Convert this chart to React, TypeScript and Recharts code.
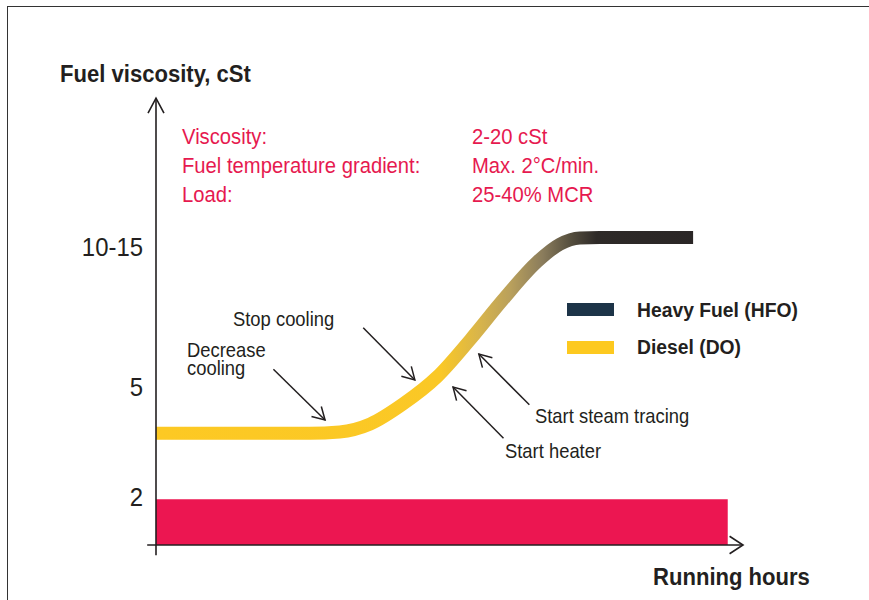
import React from 'react';
import {
  ComposedChart,
  Line,
  XAxis,
  YAxis,
  ReferenceArea,
  ReferenceLine,
  Legend,
} from 'recharts';

const FONT = '"Liberation Sans", Arial, sans-serif';
const INK = '#231F20';
const RED = '#E6194F';

// schematic units, 0-100 on both axes
const CURVE_X = [0, 26.2, 31.3, 36.5, 42.1, 47.9, 53.5, 59.1, 64.9, 68.8, 72.2, 75.6, 91.5];
const CURVE_Y = [25.1, 25.1, 25.4, 27.2, 31.7, 37.8, 46.1, 55.1, 63.6, 67.6, 69, 69.1, 69.1];

const Y_TICKS = [10.8, 35.5, 67];
const Y_TICK_LABELS = ['2', '5', '10-15'];

const MIN_BAND_X = [0, 97.4];
const MIN_BAND_Y = [0, 10.3];

const OPERATING_LABELS = ['Viscosity:', 'Fuel temperature gradient:', 'Load:'];
const OPERATING_VALUES = ['2-20 cSt', 'Max. 2°C/min.', '25-40% MCR'];

const LEGEND_ITEMS = [
  { name: 'Heavy Fuel (HFO)', color: '#1D3448' },
  { name: 'Diesel (DO)', color: '#FDC91F' },
];

// arrows: tail -> tip
const ARROWS = [
  { from: [20, 39.5], to: [28.8, 28.1] },
  { from: [35.3, 48.8], to: [44.1, 37.1] },
  { from: [59.2, 24], to: [50.6, 35.5] },
  { from: [63.6, 31.5], to: [55, 42.9] },
];

const curveData = CURVE_X.map((x, i) => ({ x, y: CURVE_Y[i] }));

const arrowShape = (len: number, deg: number, width: number) => (p: any) => {
  const { x1, y1, x2, y2 } = p;
  const a = Math.atan2(y2 - y1, x2 - x1);
  const t = (deg * Math.PI) / 180;
  const w1 = [x2 - len * Math.cos(a - t), y2 - len * Math.sin(a - t)];
  const w2 = [x2 - len * Math.cos(a + t), y2 - len * Math.sin(a + t)];
  return (
    <g>
      <line x1={x1} y1={y1} x2={x2} y2={y2} stroke={INK} strokeWidth={width} />
      <path
        d={`M${w1[0]},${w1[1]} L${x2},${y2} L${w2[0]},${w2[1]}`}
        fill="none"
        stroke={INK}
        strokeWidth={width}
      />
    </g>
  );
};

const Txt = ({ x, y, size, bold, color, children }: any) => (
  <text
    transform={`translate(${x},${y}) scale(0.92,1)`}
    fontFamily={FONT}
    fontSize={size}
    fontWeight={bold ? 700 : 400}
    fill={color || INK}
  >
    {children}
  </text>
);

const YTick = ({ x, y, payload }: any) => {
  const i = Y_TICKS.indexOf(payload.value);
  return (
    <text
      transform={`translate(${x - 1},${y}) scale(0.92,1)`}
      textAnchor="end"
      dy="0.36em"
      fontFamily={FONT}
      fontSize={26}
      fill={INK}
    >
      {Y_TICK_LABELS[i]}
    </text>
  );
};

const LegendContent = () => (
  <svg width={260} height={70}>
    {LEGEND_ITEMS.map((d, i) => (
      <g key={d.name}>
        <rect x={0} y={6 + i * 38} width={47} height={13} fill={d.color} />
        <Txt x={70} y={20 + i * 37} size={21} bold>
          {d.name}
        </Txt>
      </g>
    ))}
  </svg>
);

export default function App() {
  return (
    <div
      style={{
        position: 'absolute',
        left: 0,
        top: 0,
        width: 869,
        height: 600,
        background: '#fff',
        overflow: 'hidden',
      }}
    >
      <div
        style={{
          position: 'absolute',
          left: 7,
          top: 6,
          width: 900,
          height: 700,
          borderLeft: '1.5px solid #333',
          borderTop: '1.5px solid #333',
        }}
      />
      <svg width={0} height={0} style={{ position: 'absolute' }}>
        <defs>
          <linearGradient id="fuelGrad" x1="0" y1="0" x2="1" y2="0">
            <stop offset="0" stopColor="#FDC923" />
            <stop offset="0.53" stopColor="#FAC826" />
            <stop offset="0.6" stopColor="#D9B54A" />
            <stop offset="0.66" stopColor="#B9A05C" />
            <stop offset="0.72" stopColor="#8A7C5C" />
            <stop offset="0.77" stopColor="#57503F" />
            <stop offset="0.82" stopColor="#2E2A28" />
            <stop offset="1" stopColor="#2A2626" />
          </linearGradient>
        </defs>
      </svg>
      <div style={{ position: 'absolute', left: 0, top: 0 }}>
        <ComposedChart
          width={869}
          height={600}
          data={curveData}
          margin={{ top: 100, right: 126, bottom: 55, left: 96 }}
        >
          <XAxis dataKey="x" type="number" domain={[0, 100]} hide />
          <YAxis
            type="number"
            domain={[0, 100]}
            width={60}
            ticks={Y_TICKS}
            interval={0}
            axisLine={false}
            tickLine={false}
            tickMargin={6}
            tick={<YTick />}
          />
          <ReferenceArea
            x1={MIN_BAND_X[0]}
            x2={MIN_BAND_X[1]}
            y1={MIN_BAND_Y[0]}
            y2={MIN_BAND_Y[1]}
            fill="#EC1651"
            fillOpacity={1}
            stroke="none"
          />
          <Line
            dataKey="y"
            type="monotone"
            stroke="url(#fuelGrad)"
            strokeWidth={13}
            dot={false}
            activeDot={false}
            isAnimationActive={false}
          />
          <ReferenceLine
            segment={[{ x: 0, y: -2.3 }, { x: 0, y: 100.4 }]}
            ifOverflow="visible"
            shape={arrowShape(17, 28, 1.6)}
          />
          <ReferenceLine
            segment={[{ x: -1.5, y: 0 }, { x: 100, y: 0 }]}
            ifOverflow="visible"
            shape={arrowShape(16, 33, 1.6)}
          />
          {ARROWS.map((a, i) => (
            <ReferenceLine
              key={i}
              segment={[{ x: a.from[0], y: a.from[1] }, { x: a.to[0], y: a.to[1] }]}
              ifOverflow="visible"
              shape={arrowShape(14, 30, 1.5)}
            />
          ))}
          <Legend
            layout="horizontal"
            verticalAlign="middle"
            align="center"
            content={<LegendContent />}
            wrapperStyle={{ position: 'absolute', left: 567, top: 297, width: 260, height: 70 }}
          />
        </ComposedChart>
      </div>
      <svg
        width={869}
        height={600}
        style={{ position: 'absolute', left: 0, top: 0, pointerEvents: 'none' }}
      >
        <Txt x={60} y={82} size={24} bold>Fuel viscosity, cSt</Txt>
        <Txt x={653} y={585} size={24} bold>Running hours</Txt>
        {OPERATING_LABELS.map((t, i) => (
          <Txt key={t} x={182} y={144 + i * 29} size={22} color={RED}>{t}</Txt>
        ))}
        {OPERATING_VALUES.map((t, i) => (
          <Txt key={t} x={472} y={144 + i * 29} size={22} color={RED}>{t}</Txt>
        ))}
        <Txt x={233} y={326} size={20}>Stop cooling</Txt>
        <Txt x={187} y={357} size={20}>Decrease</Txt>
        <Txt x={187} y={375} size={20}>cooling</Txt>
        <Txt x={535} y={423} size={20}>Start steam tracing</Txt>
        <Txt x={505} y={458} size={20}>Start heater</Txt>
      </svg>
    </div>
  );
}
